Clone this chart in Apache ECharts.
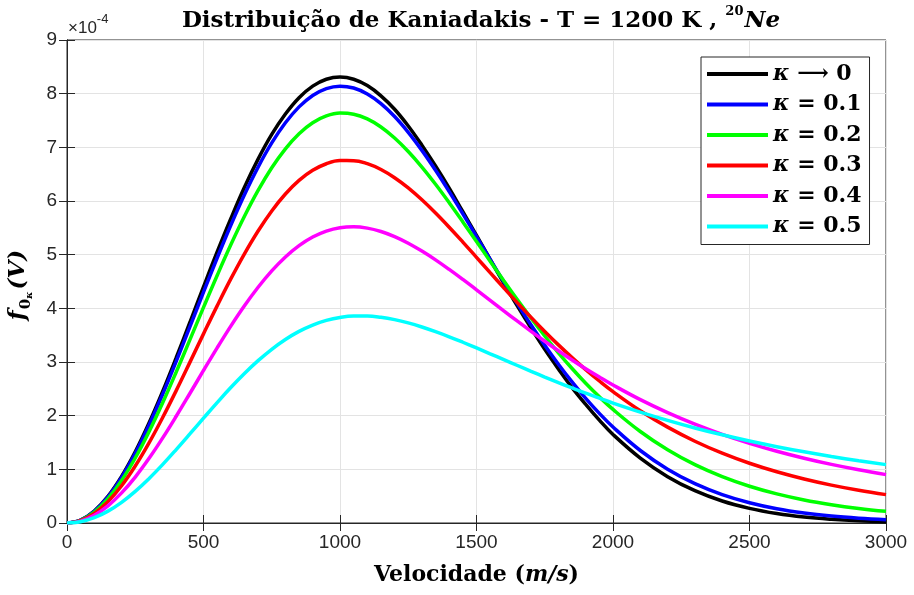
<!DOCTYPE html>
<html>
<head>
<meta charset="utf-8">
<script src="https://cdn.jsdelivr.net/npm/echarts@6/dist/echarts.min.js"></script>
<style>
  html, body { margin: 0; padding: 0; background: #fff; }
  #chart { width: 914px; height: 595px; }
</style>
</head>
<body>
<div id="chart"></div>
<script>
// velocidade (m/s)
var velocity = [0, 50, 100, 150, 200, 250, 300, 350, 400, 450, 500, 550, 600, 650, 700, 750, 800, 850, 900, 950,
  1000, 1050, 1100, 1150, 1200, 1250, 1300, 1350, 1400, 1450, 1500, 1550, 1600, 1650, 1700, 1750, 1800, 1850, 1900, 1950,
  2000, 2100, 2200, 2300, 2400, 2500, 2600, 2700, 2800, 2900, 3000];

// f (x 1e-4)
var kappa0 = [0, 0.056, 0.224, 0.497, 0.868, 1.326, 1.858, 2.448, 3.08, 3.736, 4.40, 5.050, 5.67, 6.255, 6.78, 7.240, 7.62, 7.924, 8.14, 8.268,
  8.31, 8.269, 8.15, 7.960, 7.71, 7.398, 7.04, 6.654, 6.24, 5.801, 5.36, 4.911, 4.47, 4.041, 3.63, 3.235, 2.87, 2.523, 2.21, 1.917,
  1.65, 1.21, 0.864, 0.602, 0.410, 0.273, 0.177, 0.112, 0.070, 0.042, 0.025];
var kappa01 = [0, 0.055, 0.219, 0.486, 0.849, 1.297, 1.817, 2.394, 3.012, 3.653, 4.301, 4.938, 5.549, 6.118, 6.632, 7.082, 7.458, 7.754, 7.967, 8.095,
  8.14, 8.105, 7.994, 7.814, 7.574, 7.280, 6.943, 6.572, 6.174, 5.760, 5.337, 4.912, 4.492, 4.083, 3.688, 3.313, 2.959, 2.629, 2.323, 2.043,
  1.788, 1.351, 1.003, 0.734, 0.530, 0.378, 0.266, 0.186, 0.129, 0.089, 0.061];
var kappa02 = [0, 0.051, 0.204, 0.454, 0.793, 1.211, 1.697, 2.236, 2.813, 3.412, 4.017, 4.612, 5.183, 5.715, 6.197, 6.619, 6.973, 7.254, 7.459, 7.585,
  7.638, 7.618, 7.529, 7.379, 7.174, 6.923, 6.633, 6.312, 5.969, 5.611, 5.245, 4.878, 4.513, 4.158, 3.814, 3.484, 3.172, 2.879, 2.605, 2.351,
  2.116, 1.705, 1.364, 1.087, 0.864, 0.685, 0.543, 0.430, 0.342, 0.272, 0.217];
var kappa03 = [0, 0.045, 0.179, 0.398, 0.695, 1.062, 1.488, 1.961, 2.467, 2.993, 3.524, 4.046, 4.548, 5.016, 5.441, 5.815, 6.130, 6.383, 6.571, 6.694,
  6.753, 6.752, 6.695, 6.587, 6.434, 6.244, 6.022, 5.776, 5.512, 5.235, 4.951, 4.665, 4.381, 4.102, 3.831, 3.569, 3.319, 3.082, 2.857, 2.646,
  2.448, 2.092, 1.786, 1.524, 1.301, 1.113, 0.954, 0.820, 0.706, 0.610, 0.529];
var kappa04 = [0, 0.036, 0.145, 0.321, 0.561, 0.856, 1.200, 1.581, 1.989, 2.413, 2.842, 3.264, 3.669, 4.048, 4.393, 4.698, 4.957, 5.168, 5.329, 5.440,
  5.503, 5.520, 5.495, 5.432, 5.337, 5.214, 5.067, 4.903, 4.725, 4.538, 4.345, 4.150, 3.954, 3.760, 3.571, 3.387, 3.209, 3.038, 2.874, 2.719,
  2.571, 2.298, 2.056, 1.841, 1.651, 1.484, 1.337, 1.207, 1.092, 0.991, 0.901];
var kappa05 = [0, 0.025, 0.099, 0.221, 0.385, 0.589, 0.825, 1.087, 1.368, 1.659, 1.954, 2.244, 2.524, 2.786, 3.025, 3.237, 3.420, 3.571, 3.689, 3.775,
  3.831, 3.857, 3.857, 3.833, 3.789, 3.728, 3.652, 3.565, 3.470, 3.368, 3.262, 3.153, 3.044, 2.935, 2.826, 2.720, 2.617, 2.517, 2.419, 2.326,
  2.235, 2.067, 1.912, 1.771, 1.643, 1.527, 1.422, 1.326, 1.239, 1.160, 1.088];

var seriesNames = ['κ → 0', 'κ = 0.1', 'κ = 0.2', 'κ = 0.3', 'κ = 0.4', 'κ = 0.5'];
var seriesValues = [kappa0, kappa01, kappa02, kappa03, kappa04, kappa05];
var seriesColors = ['#000000', '#0000ff', '#00ff00', '#ff0000', '#ff00ff', '#00ffff'];

var serif = '"DejaVu Serif", "Liberation Serif", serif';
var sans = '"Liberation Sans", Arial, sans-serif';
var axisColor = '#262626';

function pairs(xs, ys) {
  return xs.map(function (x, i) { return [x, ys[i]]; });
}

var series = seriesValues.map(function (vals, i) {
  return {
    name: seriesNames[i],
    type: 'line',
    data: pairs(velocity, vals),
    smooth: 0.4,
    symbol: 'none',
    lineStyle: { width: 3.5, color: seriesColors[i] },
    itemStyle: { color: seriesColors[i] },
    animation: false
  };
});

var chart = echarts.init(document.getElementById('chart'));
chart.setOption({
  backgroundColor: '#ffffff',
  animation: false,
  title: {
    text: '{b|Distribuição de Kaniadakis - T = 1200 K , }{sup|20}{it|Ne}',
    left: 476,
    textAlign: 'center',
    top: -1,
    textStyle: {
      rich: {
        b: { fontFamily: serif, fontWeight: 'bold', fontSize: 23, color: '#000', lineHeight: 29, verticalAlign: 'bottom' },
        sup: { fontFamily: serif, fontWeight: 'bold', fontSize: 13, color: '#000', lineHeight: 29, verticalAlign: 'top', padding: [1, 1, 0, 0] },
        it: { fontFamily: serif, fontWeight: 'bold', fontStyle: 'italic', fontSize: 23, color: '#000', lineHeight: 29, verticalAlign: 'bottom' }
      }
    }
  },
  legend: {
    orient: 'vertical',
    left: 701,
    top: 57,
    data: seriesNames,
    icon: 'rect',
    itemWidth: 61,
    itemHeight: 4,
    itemGap: 8.5,
    padding: [6, 8, 7, 6],
    backgroundColor: '#ffffff',
    borderColor: axisColor,
    borderWidth: 1,
    formatter: function (name) {
      return '{k|κ}{t|' + name.slice(1).replace('→', '⟶') + '}';
    },
    textStyle: {
      lineHeight: 22,
      rich: {
        k: { fontFamily: serif, fontWeight: 'bold', fontStyle: 'italic', fontSize: 22, color: '#000' },
        t: { fontFamily: serif, fontWeight: 'bold', fontSize: 22, color: '#000' }
      }
    }
  },
  grid: {
    left: 67, right: 28, top: 40, bottom: 72,
    show: true,
    borderColor: axisColor,
    borderWidth: 1,
    backgroundColor: '#ffffff'
  },
  xAxis: [{
    type: 'value',
    min: 0, max: 3000, interval: 500,
    name: '{b|Velocidade (}{it|m/s}{b|)}',
    nameLocation: 'middle',
    nameGap: 41,
    nameTextStyle: {
      rich: {
        b: { fontFamily: serif, fontWeight: 'bold', fontSize: 22, color: '#000' },
        it: { fontFamily: serif, fontWeight: 'bold', fontStyle: 'italic', fontSize: 22, color: '#000' }
      }
    },
    axisLine: { show: true, lineStyle: { color: axisColor, width: 1 } },
    axisTick: { show: true, inside: true, length: 8, lineStyle: { color: axisColor } },
    axisLabel: {
      color: axisColor, fontFamily: sans, fontSize: 19, margin: 10,
      formatter: function (v) { return String(v); }
    },
    splitLine: { show: true, lineStyle: { color: '#e3e3e3', width: 1 } }
  }, {
    type: 'value', position: 'top',
    min: 0, max: 3000, interval: 500,
    axisLine: { show: true, lineStyle: { color: axisColor, width: 1 } },
    axisTick: { show: true, inside: true, length: 8, lineStyle: { color: axisColor } },
    axisLabel: { show: false },
    splitLine: { show: false }
  }],
  yAxis: [{
    type: 'value',
    min: 0, max: 9, interval: 1,
    axisLine: { show: true, lineStyle: { color: axisColor, width: 1 } },
    axisTick: { show: true, inside: true, length: 8, lineStyle: { color: axisColor } },
    axisLabel: {
      color: axisColor, fontFamily: sans, fontSize: 19, margin: 10,
      formatter: function (v) { return String(v); }
    },
    splitLine: { show: true, lineStyle: { color: '#e3e3e3', width: 1 } }
  }, {
    type: 'value', position: 'right',
    min: 0, max: 9, interval: 1,
    axisLine: { show: true, lineStyle: { color: axisColor, width: 1 } },
    axisTick: { show: true, inside: true, length: 8, lineStyle: { color: axisColor } },
    axisLabel: { show: false },
    splitLine: { show: false }
  }],
  graphic: [{
    type: 'text',
    left: 68, top: 13,
    style: {
      text: '{m|×10}{e|-4}',
      rich: {
        m: { fontFamily: sans, fontSize: 17, fill: axisColor, verticalAlign: 'bottom', lineHeight: 24 },
        e: { fontFamily: sans, fontSize: 13, fill: axisColor, verticalAlign: 'top', lineHeight: 24 }
      }
    }
  }, {
    type: 'text',
    x: 18, y: 285,
    rotation: Math.PI / 2,
    style: {
      text: '{f|f}{s|0}{k|κ}{f|(V)}',
      align: 'center',
      verticalAlign: 'middle',
      rich: {
        f: { fontFamily: serif, fontWeight: 'bold', fontStyle: 'italic', fontSize: 23, fill: '#000', lineHeight: 32, verticalAlign: 'middle' },
        s: { fontFamily: serif, fontWeight: 'bold', fontSize: 15, fill: '#000', lineHeight: 32, verticalAlign: 'bottom', padding: [0, 0, 0, 1] },
        k: { fontFamily: serif, fontWeight: 'bold', fontStyle: 'italic', fontSize: 10, fill: '#000', lineHeight: 32, verticalAlign: 'bottom', padding: [0, 2, 0, 0] }
      }
    }
  }],
  series: series
});
</script>
</body>
</html>
